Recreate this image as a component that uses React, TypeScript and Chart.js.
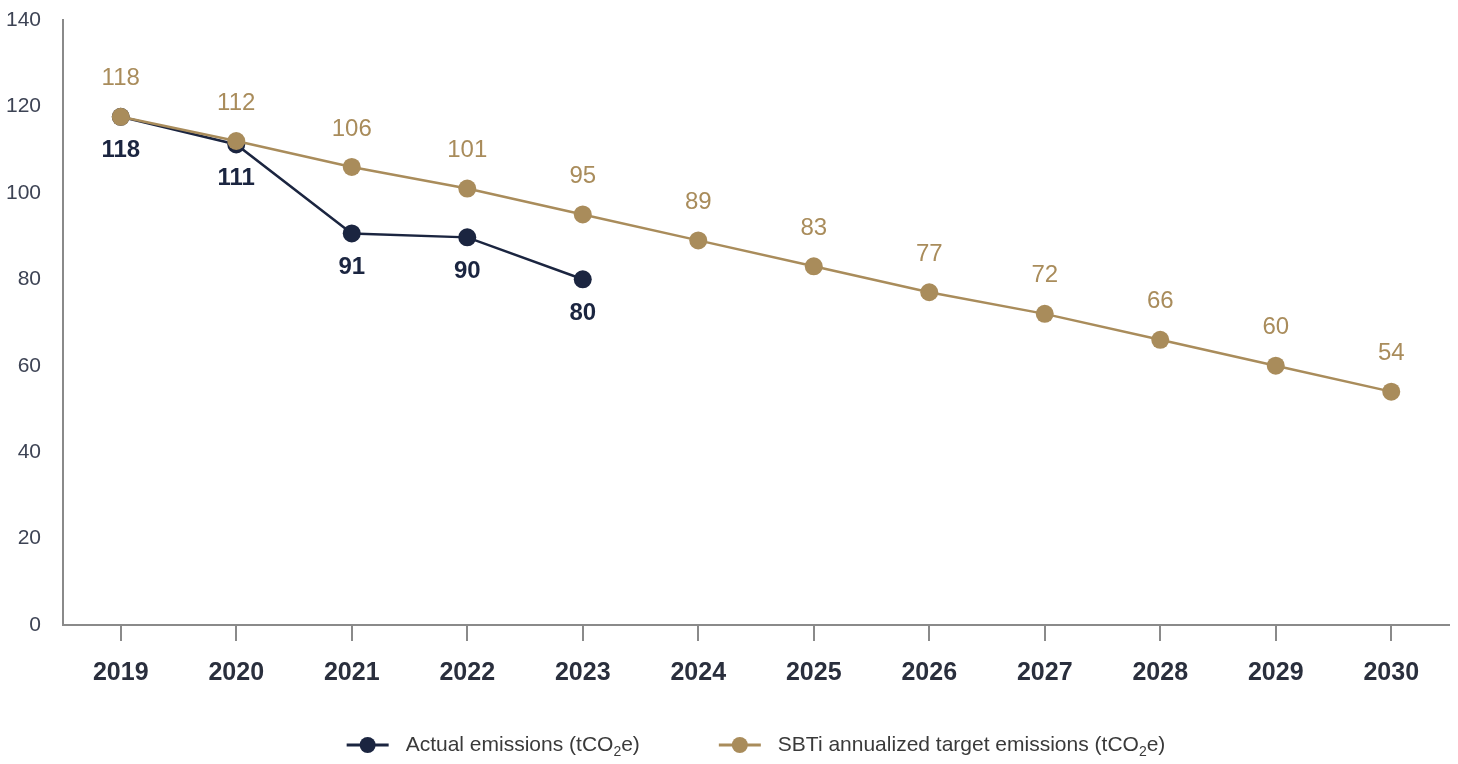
import React, { useEffect, useRef } from "react";
import { Chart, registerables } from "chart.js";

Chart.register(...registerables);

const years = ["2019", "2020", "2021", "2022", "2023", "2024", "2025", "2026", "2027", "2028", "2029", "2030"];
const actualEmissions = [117.6, 111.2, 90.6, 89.7, 80];
const targetEmissions = [117.6, 112, 106, 101, 95, 89, 83, 77, 72, 66, 60, 54];
const actualLabels = ["118", "111", "91", "90", "80"];
const targetLabels = ["118", "112", "106", "101", "95", "89", "83", "77", "72", "66", "60", "54"];
const yTicks = [0, 20, 40, 60, 80, 100, 120, 140];

const NAVY = "#1b2540";
const GOLD = "#a98c5b";
const AXIS = "#8a8a8a";

const labelPlugin = {
  id: "valueLabels",
  afterDatasetsDraw(chart: any) {
    const ctx = chart.ctx;
    ctx.save();
    ctx.textAlign = "center";
    ctx.textBaseline = "middle";
    chart.data.datasets.forEach((ds: any, i: number) => {
      const meta = chart.getDatasetMeta(i);
      const labels = ds._labels as string[];
      const off = ds._labelOffset as number;
      ctx.fillStyle = ds._labelColor;
      ctx.font = ds._labelFont;
      meta.data.forEach((pt: any, j: number) => {
        ctx.fillText(labels[j], pt.x, pt.y + off);
      });
    });
    ctx.restore();
  },
  afterDraw(chart: any) {
    const ctx = chart.ctx;
    const area = chart.chartArea;
    const y = 745;
    const font = "21px 'Liberation Sans Narrow', 'Arial Narrow', 'Liberation Sans', sans-serif";
    const subFont = "14px 'Liberation Sans Narrow', 'Arial Narrow', 'Liberation Sans', sans-serif";
    const items = [
      { color: NAVY, pre: "Actual emissions (tCO", post: "e)" },
      { color: GOLD, pre: "SBTi annualized target emissions (tCO", post: "e)" },
    ];
    ctx.save();
    const iconW = 42;
    const iconGap = 17;
    const itemGap = 79;
    const widths = items.map((it) => {
      ctx.font = font;
      const a = ctx.measureText(it.pre).width + ctx.measureText(it.post).width;
      ctx.font = subFont;
      const b = ctx.measureText("2").width;
      return iconW + iconGap + a + b;
    });
    const total = widths.reduce((s, w) => s + w, 0) + itemGap * (items.length - 1);
    let x = (area.left + area.right) / 2 - total / 2;
    items.forEach((it, i) => {
      ctx.strokeStyle = it.color;
      ctx.lineWidth = 3;
      ctx.beginPath();
      ctx.moveTo(x, y);
      ctx.lineTo(x + iconW, y);
      ctx.stroke();
      ctx.fillStyle = it.color;
      ctx.beginPath();
      ctx.arc(x + iconW / 2, y, 8, 0, Math.PI * 2);
      ctx.fill();
      let tx = x + iconW + iconGap;
      ctx.fillStyle = "#3a3a3a";
      ctx.textAlign = "left";
      ctx.textBaseline = "middle";
      ctx.font = font;
      ctx.fillText(it.pre, tx, y);
      tx += ctx.measureText(it.pre).width;
      ctx.font = subFont;
      ctx.fillText("2", tx, y + 7);
      tx += ctx.measureText("2").width;
      ctx.font = font;
      ctx.fillText(it.post, tx, y);
      x += widths[i] + itemGap;
    });
    ctx.restore();
  },
};

export default function App() {
  const ref = useRef<HTMLCanvasElement | null>(null);
  useEffect(() => {
    if (!ref.current) return;
    const chart = new Chart(ref.current, {
      type: "line",
      data: {
        labels: years,
        datasets: [
          {
            label: "Actual emissions (tCO2e)",
            data: actualEmissions,
            borderColor: NAVY,
            backgroundColor: NAVY,
            borderWidth: 2.5,
            pointRadius: 9,
            pointBorderWidth: 0,
            pointHoverRadius: 9,
            order: 2,
            _labels: actualLabels,
            _labelOffset: 34,
            _labelColor: NAVY,
            _labelFont: "bold 24px 'Liberation Sans', Arial, sans-serif",
          } as any,
          {
            label: "SBTi annualized target emissions (tCO2e)",
            data: targetEmissions,
            borderColor: GOLD,
            backgroundColor: GOLD,
            borderWidth: 2.5,
            pointRadius: 9,
            pointBorderWidth: 0,
            pointHoverRadius: 9,
            order: 1,
            _labels: targetLabels,
            _labelOffset: -38,
            _labelColor: GOLD,
            _labelFont: "24px 'Liberation Sans', Arial, sans-serif",
          } as any,
        ],
      },
      options: {
        animation: false,
        responsive: true,
        maintainAspectRatio: false,
        layout: { padding: { left: 0, right: 7, top: 20, bottom: 59 } },
        plugins: {
          legend: { display: false },
          tooltip: { enabled: false },
        },
        scales: {
          x: {
            offset: true,
            grid: {
              display: true,
              drawOnChartArea: false,
              drawTicks: true,
              tickLength: 16,
              offset: false,
              color: AXIS,
              lineWidth: 2,
            },
            border: { display: true, color: AXIS, width: 2 },
            ticks: {
              padding: 17,
              color: "#2a2f3d",
              font: { family: "'Liberation Sans', Arial, sans-serif", size: 25, weight: "bold" },
              maxRotation: 0,
            },
          },
          y: {
            min: 0,
            max: 140,
            afterFit: (s: any) => {
              s.width = 63;
              s.paddingTop = 0;
              s.paddingBottom = 0;
            },
            afterBuildTicks: (s: any) => {
              s.ticks = yTicks.map((v) => ({ value: v }));
            },
            grid: { display: false, drawTicks: false },
            border: { display: true, color: AXIS, width: 2 },
            ticks: {
              padding: 22,
              color: "#3d4354",
              font: { family: "'Liberation Sans Narrow', 'Arial Narrow', 'Liberation Sans', sans-serif", size: 21 },
            },
          },
        },
      },
      plugins: [labelPlugin],
    });
    return () => chart.destroy();
  }, []);
  return (
    <div style={{ position: "fixed", left: 0, top: 0, width: 1458, height: 764, background: "#fff" }}>
      <canvas ref={ref} />
    </div>
  );
}
